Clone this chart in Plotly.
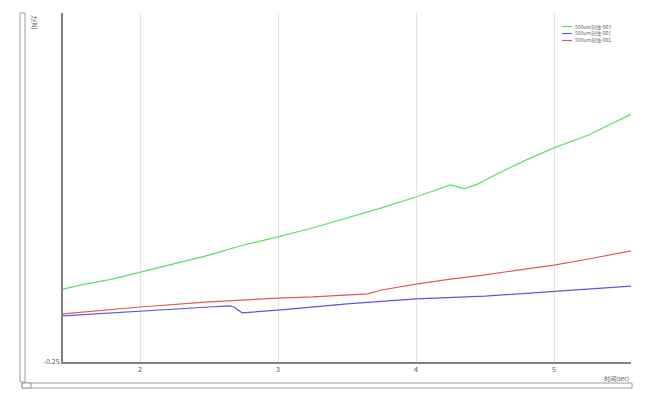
import plotly.graph_objects as go

# Data (time in sec, force values)
green_x = [1.44, 1.6, 1.8, 2.0, 2.25, 2.5, 2.75, 3.0, 3.25, 3.5, 3.75, 4.0, 4.15, 4.25, 4.3, 4.35, 4.45, 4.6, 4.8, 5.0, 5.25, 5.56]
green_y = [0.011, 0.029, 0.047, 0.072, 0.101, 0.133, 0.169, 0.198, 0.230, 0.266, 0.302, 0.341, 0.366, 0.384, 0.377, 0.370, 0.388, 0.427, 0.474, 0.517, 0.563, 0.638]

blue_x = [1.44, 2.0, 2.5, 2.65, 2.68, 2.74, 3.0, 3.5, 4.0, 4.5, 5.0, 5.56]
blue_y = [-0.085, -0.067, -0.053, -0.049, -0.053, -0.074, -0.064, -0.042, -0.024, -0.014, 0.004, 0.022]

red_x = [1.44, 2.0, 2.5, 3.0, 3.25, 3.5, 3.65, 3.75, 4.0, 4.25, 4.5, 4.75, 5.0, 5.25, 5.56]
red_y = [-0.078, -0.053, -0.035, -0.021, -0.017, -0.010, -0.006, 0.008, 0.029, 0.047, 0.062, 0.080, 0.097, 0.119, 0.148]

series_names = ["500um刻蚀-003", "500um刻蚀-001", "500um刻蚀-002"]
series_colors = ["#5ee05e", "#5858e0", "#e05858"]
x_ticks = [2, 3, 4, 5]
y_ticks = [-0.25]
y_tick_labels = ["-0.25"]

fig = go.Figure()
for xs, ys, name, col in zip([green_x, blue_x, red_x], [green_y, blue_y, red_y],
                             series_names, series_colors):
    fig.add_trace(go.Scatter(x=xs, y=ys, mode="lines", name=name,
                             line=dict(color=col, width=1.2), showlegend=False))

fig.update_layout(
    width=634, height=401,
    margin=dict(l=55, r=11, t=5, b=47),
    paper_bgcolor="white", plot_bgcolor="white",
    font=dict(family="Noto Sans CJK SC, DejaVu Sans", size=7, color="#555"),
    showlegend=False,
    xaxis=dict(range=[1.442, 5.558], tickvals=x_ticks, showgrid=True,
               gridcolor="#e4e4e4", gridwidth=1, zeroline=False,
               showline=True, linecolor="#808080", linewidth=2,
               ticks="", tickfont=dict(size=7, color="#555")),
    yaxis=dict(range=[-0.25, 1.0], tickvals=y_ticks, ticktext=y_tick_labels,
               showgrid=False, zeroline=False,
               showline=True, linecolor="#808080", linewidth=2,
               ticks="", tickfont=dict(size=7, color="#555")),
)

def px_x(p):
    return (p - 63) / 568.0

def px_y(p):
    return (362 - p) / 349.0

# axis titles
fig.add_annotation(text="时间(sec)", xref="paper", yref="paper", x=px_x(631), y=px_y(378.5),
                   xanchor="right", yanchor="middle", showarrow=False,
                   font=dict(size=6, color="#555"))
fig.add_annotation(text="力[N]", xref="paper", yref="paper", x=px_x(35), y=px_y(13),
                   xanchor="center", yanchor="top", showarrow=False, textangle=90,
                   font=dict(size=6, color="#555"))

shapes = [
    # vertical scrollbar at left
    dict(type="rect", x0=px_x(20), x1=px_x(25), y0=px_y(382), y1=px_y(13),
         line=dict(color="#9a9a9a", width=1), fillcolor="white"),
    # horizontal scrollbar at bottom
    dict(type="rect", x0=px_x(22), x1=px_x(632), y0=px_y(388), y1=px_y(383),
         line=dict(color="#9a9a9a", width=1), fillcolor="white"),
    dict(type="rect", x0=px_x(22), x1=px_x(31), y0=px_y(388), y1=px_y(383),
         line=dict(color="#9a9a9a", width=1), fillcolor="white"),
]

# manual compact legend
legend_rows = [26.5, 33.5, 40.5]
for name, col, ry in zip(series_names, series_colors, legend_rows):
    shapes.append(dict(type="line", x0=px_x(562), x1=px_x(572), y0=px_y(ry), y1=px_y(ry),
                       line=dict(color=col, width=1.2)))
    fig.add_annotation(text=name, xref="paper", yref="paper", x=px_x(574), y=px_y(ry),
                       xanchor="left", yanchor="middle", showarrow=False,
                       borderpad=0, font=dict(size=5, color="#666"))

for s in shapes:
    s.update(xref="paper", yref="paper", layer="above")
fig.update_layout(shapes=shapes)

fig.write_html("out.html")
